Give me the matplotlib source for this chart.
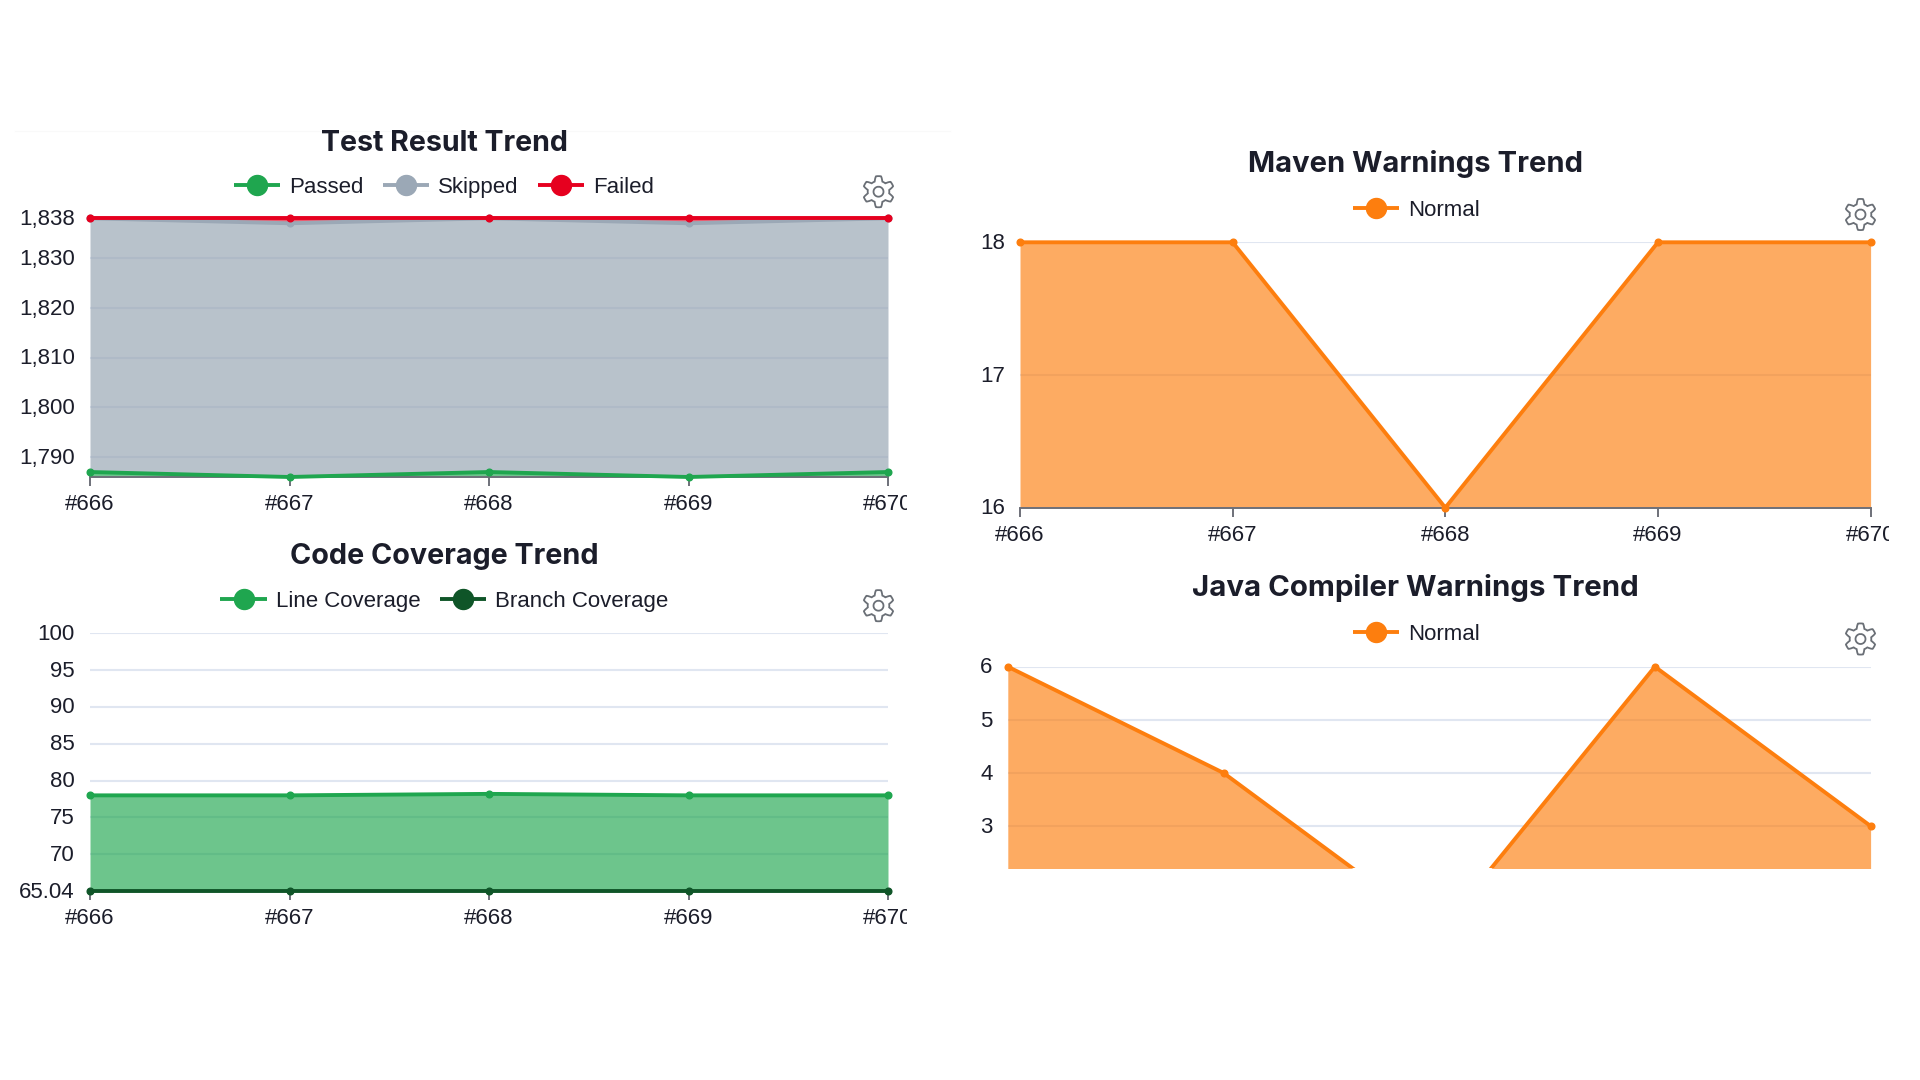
import numpy as np
import matplotlib
matplotlib.use("Agg")
import matplotlib.pyplot as plt
from matplotlib.lines import Line2D
from matplotlib.patches import PathPatch
from matplotlib.path import Path
from matplotlib.transforms import Affine2D, Bbox, IdentityTransform

plt.rcParams['font.family'] = ['Liberation Sans', 'DejaVu Sans']

builds = ["#666", "#667", "#668", "#669", "#670"]

# test results, stacked totals as they appear on the chart
passed = [1787, 1786, 1787, 1786, 1787]
skipped_top = [1838, 1837, 1838, 1837, 1838]
failed_top = [1838, 1838, 1838, 1838, 1838]
test_ticks = [1790, 1800, 1810, 1820, 1830, 1838]
test_labels = ["1,790", "1,800", "1,810", "1,820", "1,830", "1,838"]

line_cov = [78, 78, 78.2, 78, 78]
branch_cov = [65.06, 65.06, 65.06, 65.06, 65.06]
cov_ticks = [65.04, 70, 75, 80, 85, 90, 95, 100]
cov_labels = ["65.04", "70", "75", "80", "85", "90", "95", "100"]

maven = [18, 18, 16, 18, 18]
maven_ticks = [16, 17, 18]

java = [6, 4, 1, 6, 3]
java_ticks = [3, 4, 5, 6]

GREEN = "#1fa64f"
GREY = "#9ba8b6"
RED = "#e6001f"
DARK = "#0f5528"
ORANGE = "#fd7e0e"
TEXT = "#1b1d2a"
W, H = 1920, 1080

fig = plt.figure(figsize=(19.2, 10.8), dpi=100, facecolor="white")

# legend positions are given in figure pixels
px_transform = Affine2D().scale(1, -1).translate(0, H)


def make_axes(x0, x1, ytop, ybot, ylim, ticks, labels, has_axis=True):
    ax = fig.add_axes([x0 / W, 1 - ybot / H, (x1 - x0) / W, (ybot - ytop) / H])
    ax.set_xlim(0, 4)
    ax.set_ylim(*ylim)
    ax.set_xticks(range(5))
    ax.set_yticks(ticks)
    ax.set_yticklabels(labels, fontsize=16, color=TEXT)
    ax.tick_params(axis="y", length=0, pad=11)
    # labels sit a pixel higher than matplotlib centres them
    for lab in ax.get_yticklabels():
        lab.set_transform(lab.get_transform() + Affine2D().translate(0, 1.3))
    for s in ["top", "left", "right"]:
        ax.spines[s].set_visible(False)
    ax.grid(True, axis="y", color="#e0e6f1", lw=1.5, zorder=0)
    ax.grid(False, axis="x")
    ax.set_axisbelow(True)
    if has_axis:
        ax.set_xticklabels(builds, fontsize=16, color=TEXT)
        ax.tick_params(axis="x", length=6.5, width=1.4, color="#6e7079", pad=6)
        ax.spines["bottom"].set_color("#6e7079")
        ax.spines["bottom"].set_linewidth(1.4)
        # the last label is cut off in the screenshot
        box = Bbox([[0, 0], [x1 + 18.5, H]])
        for lab in ax.get_xticklabels():
            lab.set_clip_box(box)
            lab.set_clip_on(True)
    else:
        ax.spines["bottom"].set_visible(False)
        ax.tick_params(axis="x", length=0, labelbottom=False)
    return ax


def series(ax, vals, color, base=None, alpha=0.65, lw=2.8, clip=None):
    xs = range(5)
    if base is None:
        base = ax.get_ylim()[0]
    ax.fill_between(xs, base, vals, color=color, alpha=alpha, lw=0, zorder=2)
    line, = ax.plot(xs, vals, color=color, lw=lw, marker="o", ms=4.8, zorder=4,
                    solid_joinstyle="round")
    if clip is None:
        line.set_clip_on(False)
    else:
        line.set_clip_box(clip)


def add_legend(ax, names, colors, cx, cy):
    handles = [Line2D([], [], color=c, lw=2.8, marker="o", ms=14.4,
                      solid_capstyle="butt") for c in colors]
    ax.legend(handles, names, loc="center", bbox_to_anchor=(cx, cy),
              bbox_transform=px_transform, ncols=len(names), frameon=False,
              fontsize=16, labelcolor=TEXT, handlelength=2.09, handletextpad=0.42,
              columnspacing=0.84, borderpad=0, borderaxespad=0)


def add_gear(cx, cy):
    # settings icon, outline only
    t = np.linspace(0, 2 * np.pi, 361)
    r = 13.2 + 2.4 * np.clip(1.8 * np.cos(6 * t), -1, 1)
    outer = np.column_stack([cx + r * np.sin(t), (H - cy) + r * np.cos(t)])
    hole = np.column_stack([cx + 5 * np.sin(t), (H - cy) + 5 * np.cos(t)])
    verts = np.vstack([outer, hole])
    codes = [Path.MOVETO] + [Path.LINETO] * 360 + [Path.MOVETO] + [Path.LINETO] * 360
    fig.add_artist(PathPatch(Path(verts, codes), fc="none", ec="#6a6f76", lw=1.3,
                             transform=IdentityTransform()))


def add_title(text, cx, cy, size):
    fig.text(cx / W, 1 - cy / H, text, ha="center", va="center", fontsize=size,
             fontweight="bold", family=["Inter", "DejaVu Sans"], color=TEXT)


# Test Result Trend
ax1 = make_axes(90, 888, 218.3, 477, (1786, 1838), test_ticks, test_labels)
series(ax1, passed, GREEN)
series(ax1, skipped_top, GREY, base=passed, alpha=0.7)
series(ax1, failed_top, RED, base=skipped_top)
ax1.lines[0].set_zorder(5)
add_legend(ax1, ["Passed", "Skipped", "Failed"], [GREEN, GREY, RED], 444, 187.5)
add_title("Test Result Trend", 444, 143.5, 20.6)
add_gear(878.5, 191.7)
fig.add_artist(Line2D([15, 950], [H - 131, H - 131], color="#f9f9f9", lw=0.8,
                      transform=IdentityTransform()))

# Maven Warnings Trend
ax2 = make_axes(1020, 1870.6, 242.3, 507.7, (16, 18), maven_ticks,
                [str(v) for v in maven_ticks])
series(ax2, maven, ORANGE)
add_legend(ax2, ["Normal"], [ORANGE], 1416.5, 210)
add_title("Maven Warnings Trend", 1415.5, 164.5, 21)
add_gear(1860.5, 214.5)

# Code Coverage Trend
ax3 = make_axes(90, 888, 633, 891, (65.04, 100), cov_ticks, cov_labels)
series(ax3, line_cov, GREEN, base=branch_cov)
series(ax3, branch_cov, DARK)
add_legend(ax3, ["Line Coverage", "Branch Coverage"], [GREEN, DARK], 444.5, 601.5)
add_title("Code Coverage Trend", 444, 556.5, 20.7)
add_gear(878.5, 605.7)

# Java Compiler Warnings Trend, the bottom is cut off in the screenshot
ax4 = make_axes(1007.8, 1870.6, 666.7, 868, (2.21, 6), java_ticks,
                [str(v) for v in java_ticks], has_axis=False)
series(ax4, java, ORANGE, base=0, clip=Bbox([[990, H - 868], [1890, H - 650]]))
add_legend(ax4, ["Normal"], [ORANGE], 1416.5, 634)
add_title("Java Compiler Warnings Trend", 1415.5, 588.5, 21.2)
add_gear(1860.5, 639)

fig.savefig("out.png", dpi=100)
